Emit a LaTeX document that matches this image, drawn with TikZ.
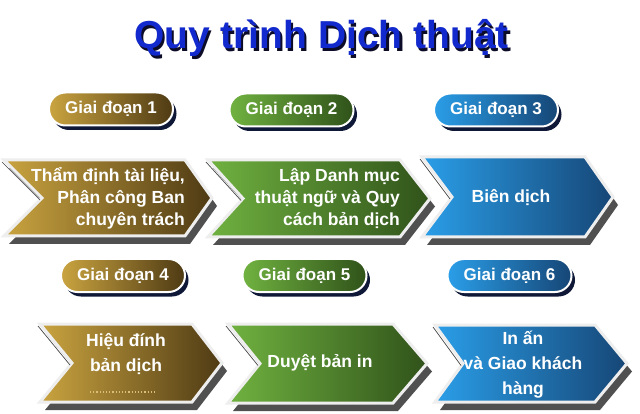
\documentclass[tikz,border=0pt]{standalone}
\usepackage{fontspec}
\setmainfont{Liberation Sans}
\usetikzlibrary{shapes.misc,shadows}
\definecolor{goldL}{RGB}{202,164,64}
\definecolor{goldR}{RGB}{78,58,20}
\definecolor{greenL}{RGB}{112,178,64}
\definecolor{greenR}{RGB}{48,82,26}
\definecolor{blueL}{RGB}{42,158,232}
\definecolor{blueR}{RGB}{22,70,118}
\definecolor{titleblue}{RGB}{18,42,205}
\definecolor{titleshade}{RGB}{12,12,40}
\definecolor{shadowgray}{RGB}{80,80,80}
\definecolor{pillshadow}{RGB}{15,25,55}
\definecolor{borderwhite}{RGB}{238,238,238}
\newcommand\mychev[9]{%
  \pgfmathsetmacro\midy{(#6+#7)/2}
  \fill[shadowgray, shift={(5,8)}] (#2,#6) -- (#4,#6) -- (#5,\midy) -- (#4,#7) -- (#2,#7) -- (#3,\midy) -- cycle;
  \shadedraw[left color=#8, right color=#9, draw=borderwhite, line width=3pt, line join=miter]
    (#2,#6) coordinate (#1-tl) -- (#4,#6) coordinate (#1-tr) -- (#5,\midy) coordinate (#1-tip)
    -- (#4,#7) coordinate (#1-br) -- (#2,#7) coordinate (#1-bl) -- (#3,\midy) coordinate (#1-n) -- cycle;
  \draw[gray!55!black, line width=0.7pt, shift={(-2,2)}] (#2,#6) -- (#3,\midy);
}
\newcommand\shadowtext[1]{\rlap{\kern2.2pt\raisebox{-2.2pt}{\textcolor{titleshade}{#1}}}\textcolor{titleblue}{#1}}
\tikzset{
  pill/.style={rounded rectangle, minimum width=124pt, minimum height=33pt, inner sep=0pt,
    draw=white, line width=2pt, text=white, font=\fontsize{17}{20}\selectfont\bfseries,
    drop shadow={shadow xshift=3.5pt, shadow yshift=-4.5pt, fill=pillshadow, opacity=1}},
  chevtext/.style={text=white, font=\fontsize{17.5}{22}\selectfont\bfseries, inner sep=0pt},
  chevtexttwo/.style={text=white, font=\fontsize{17.5}{25}\selectfont\bfseries, inner sep=0pt},
  titlefont/.style={font=\fontsize{39}{44}\selectfont\bfseries, anchor=base, inner sep=0pt},
}
\begin{document}
\begin{tikzpicture}[x=1pt,y=-1pt]
\useasboundingbox[fill=white] (0,0) rectangle (640,414);
% title
\node[titlefont] (title) at (321.5,49) {\shadowtext{Quy trình Dịch thuật}};
% pills
\node[pill, left color=goldL, right color=goldR] (p1) at (111,109) {Giai đoạn 1};
\node[pill, left color=greenL, right color=greenR] (p2) at (291.5,110) {Giai đoạn 2};
\node[pill, left color=blueL, right color=blueR] (p3) at (496,110) {Giai đoạn 3};
\node[pill, left color=goldL, right color=goldR] (p4) at (123,275.5) {Giai đoạn 4};
\node[pill, left color=greenL, right color=greenR] (p5) at (304.5,275.5) {Giai đoạn 5};
\node[pill, left color=blueL, right color=blueR] (p6) at (509.5,275.5) {Giai đoạn 6};
% chevrons
\mychev{c1}{4}{42}{185}{212}{160}{236}{goldL}{goldR}
\mychev{c2}{208}{243}{400}{430}{160}{237}{greenL}{greenR}
\mychev{c3}{422}{452}{585}{613}{157}{237}{blueL}{blueR}
\mychev{c4}{40}{72}{192}{222}{324}{402}{goldL}{goldR}
\mychev{c5}{228}{260}{393}{427}{324}{403}{greenL}{greenR}
\mychev{c6}{435}{463}{595}{627}{325}{402}{blueL}{blueR}
\draw[goldL!70!white, dotted, line width=1.2pt] (90,392) -- (157,392);
% texts
\node[chevtext, align=right, anchor=east] (t1) at (185,198) {Thẩm định tài liệu,\\Phân công Ban\\chuyên trách};
\node[chevtext, align=right, anchor=east] (t2) at (400,199) {Lập Danh mục\\thuật ngữ và Quy\\cách bản dịch};
\node[chevtext] (t3) at (511,198) {Biên dịch};
\node[chevtexttwo, align=center] (t4) at (126,354) {Hiệu đính\\bản dịch};
\node[chevtext] (t5) at (320,363) {Duyệt bản in};
\node[chevtexttwo, align=center] (t6) at (523,365) {In ấn\\và Giao khách\\hàng};
\end{tikzpicture}
\end{document}
